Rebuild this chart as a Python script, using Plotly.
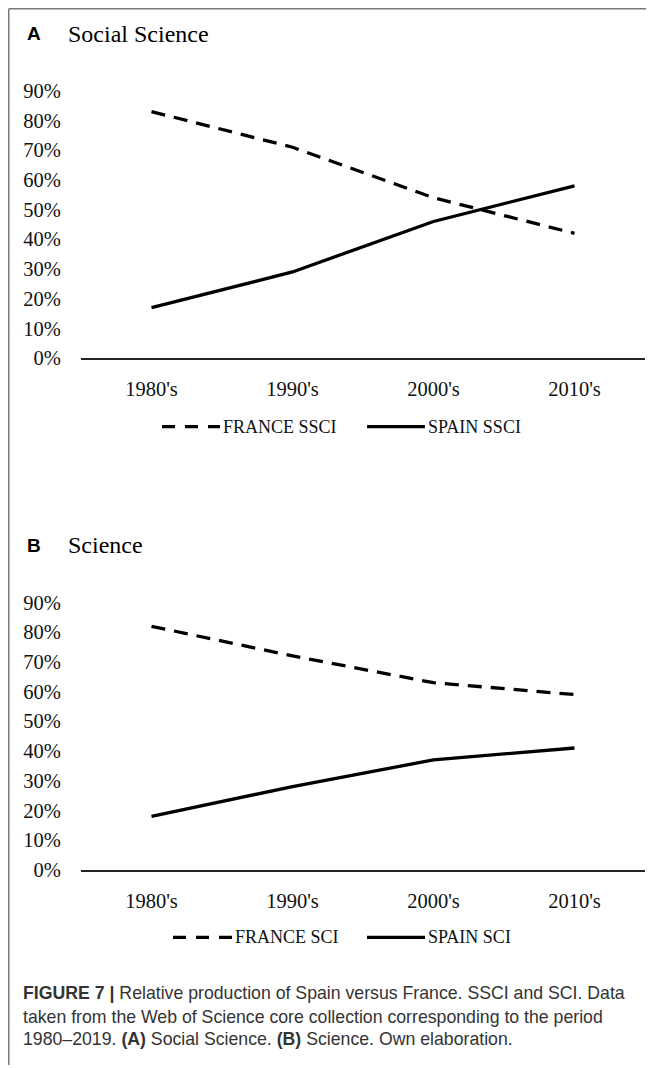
import plotly.graph_objects as go

W, H = 654, 1068
OFF = 8  # browser body margin

decades = ["1980's", "1990's", "2000's", "2010's"]
france_ssci = [0.83, 0.71, 0.54, 0.42]
spain_ssci = [0.17, 0.29, 0.46, 0.58]
france_sci = [0.82, 0.72, 0.63, 0.59]
spain_sci = [0.18, 0.28, 0.37, 0.41]
y_ticks = [0.0, 0.1, 0.2, 0.3, 0.4, 0.5, 0.6, 0.7, 0.8, 0.9]

SERIF = "Liberation Serif"
SANS = "Liberation Sans"
DASH = "14px,9px"


def px(x):
    return (x - OFF) / W


def py(y):
    return 1 - (y - OFF) / H


fig = go.Figure()

fig.add_trace(go.Scatter(x=decades, y=france_ssci, mode="lines", name="FRANCE SSCI",
                         line=dict(color="black", width=3.3, dash=DASH),
                         xaxis="x", yaxis="y", showlegend=False))
fig.add_trace(go.Scatter(x=decades, y=spain_ssci, mode="lines", name="SPAIN SSCI",
                         line=dict(color="black", width=3.3),
                         xaxis="x", yaxis="y", showlegend=False))
fig.add_trace(go.Scatter(x=decades, y=france_sci, mode="lines", name="FRANCE SCI",
                         line=dict(color="black", width=3.3, dash=DASH),
                         xaxis="x2", yaxis="y2", showlegend=False))
fig.add_trace(go.Scatter(x=decades, y=spain_sci, mode="lines", name="SPAIN SCI",
                         line=dict(color="black", width=3.3),
                         xaxis="x2", yaxis="y2", showlegend=False))

xdom = [px(81), px(645)]
xcommon = dict(domain=xdom, type="category", range=[-0.5, 3.5], showgrid=False,
               showline=True, linecolor="#222", linewidth=1.5, zeroline=False,
               ticks="outside", ticklen=0, ticklabelstandoff=12,
               tickfont=dict(family=SERIF, size=20.5, color="#111"), fixedrange=True)
ycommon = dict(range=[0, 1.0], tickvals=y_ticks, tickformat=".0%", showgrid=False,
               showline=False, zeroline=False, ticks="outside", ticklen=0,
               ticklabelstandoff=15,
               tickfont=dict(family=SERIF, size=20.5, color="#111"), fixedrange=True)

fig.update_layout(
    width=W, height=H,
    margin=dict(l=0, r=0, t=0, b=0),
    paper_bgcolor="white", plot_bgcolor="white",
    xaxis=dict(anchor="y", **xcommon),
    yaxis=dict(anchor="x", domain=[py(361.7), py(61.7)], **ycommon),
    xaxis2=dict(anchor="y2", **xcommon),
    yaxis2=dict(anchor="x2", domain=[py(878.7), py(578.7)], **ycommon),
)

shapes = []
# frame
shapes.append(dict(type="line", xref="paper", yref="paper", x0=0.0012, x1=1, y0=0.9993, y1=0.9993,
                   line=dict(color="#777", width=1.5)))
shapes.append(dict(type="line", xref="paper", yref="paper", x0=0.0012, x1=0.0012, y0=0, y1=0.9993,
                   line=dict(color="#777", width=1.5)))

annotations = []


def legend_item(x0, x1, y, dash, label):
    shapes.append(dict(type="line", xref="paper", yref="paper", x0=px(x0), x1=px(x1),
                       y0=py(y), y1=py(y), line=dict(color="black", width=3.3, dash=dash)))
    annotations.append(dict(xref="paper", yref="paper", x=px(x1 + 1), y=py(y), text=label,
                            showarrow=False, xanchor="left", yanchor="middle",
                            font=dict(family=SERIF, size=18, color="#111")))


legend_item(162, 220, 431, "13px,10px", "FRANCE SSCI")
legend_item(367, 425, 431, "solid", "SPAIN SSCI")
legend_item(173, 232, 947, "13px,10px", "FRANCE SCI")
legend_item(367, 425, 947, "solid", "SPAIN SCI")


def panel_title(y, letter, title):
    annotations.append(dict(xref="paper", yref="paper", x=px(25), y=py(y), text="<b>" + letter + "</b>",
                            showarrow=False, xanchor="left", yanchor="middle",
                            font=dict(family=SANS, size=19, color="black")))
    annotations.append(dict(xref="paper", yref="paper", x=px(66), y=py(y), text=title,
                            showarrow=False, xanchor="left", yanchor="middle",
                            font=dict(family=SERIF, size=24, color="black")))


panel_title(34, "A", "Social Science")
panel_title(551, "B", "Science")

caption_lines = [
    "<b>FIGURE 7 |</b> Relative production of Spain versus France. SSCI and SCI. Data",
    "taken from the Web of Science core collection corresponding to the period",
    "1980–2019. <b>(A)</b> Social Science. <b>(B)</b> Science. Own elaboration.",
]
caption_y = [1003, 1027, 1050]
for line, yy in zip(caption_lines, caption_y):
    annotations.append(dict(xref="paper", yref="paper", x=px(21), y=py(yy), text=line,
                            showarrow=False, xanchor="left", yanchor="middle",
                            font=dict(family=SANS, size=17.7, color="#333333")))

fig.update_layout(shapes=shapes, annotations=annotations)

fig.write_html("out.html")
